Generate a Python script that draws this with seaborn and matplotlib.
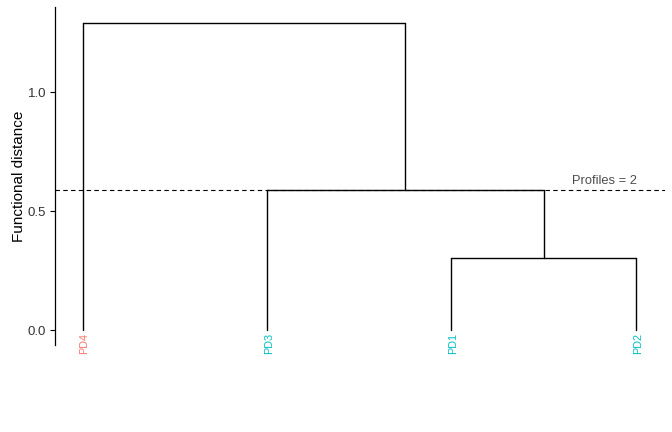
import numpy as np
import pandas as pd
import matplotlib
matplotlib.use("Agg")
import matplotlib.pyplot as plt
import seaborn as sns

# leaves in plotted order and their cluster colours
leaves = ["PD4", "PD3", "PD1", "PD2"]
leaf_colors = ["#F8766D", "#00BFC4", "#00BFC4", "#00BFC4"]

# merges: (left child, right child, height); children index leaves (0..3) or earlier merges (4..)
merges = [(2, 3, 0.302), (1, 4, 0.588), (0, 5, 1.294)]
cut_height = 0.588
cut_label = "Profiles = 2"

# build dendrogram segments
pos = {i: (float(i + 1), 0.0) for i in range(len(leaves))}
rows = []
seg = 0
for k, (a, b, h) in enumerate(merges):
    xa, ya = pos[a]
    xb, yb = pos[b]
    for xs, ys in [([xa, xa], [ya, h]), ([xb, xb], [yb, h]), ([xa, xb], [h, h])]:
        for x, y in zip(xs, ys):
            rows.append({"seg": seg, "x": x, "y": y})
        seg += 1
    pos[len(leaves) + k] = ((xa + xb) / 2, h)
segs = pd.DataFrame(rows)

sns.set_style("white")
plt.rcParams["font.family"] = ["Liberation Sans", "DejaVu Sans"]

fig = plt.figure(figsize=(6.72, 4.32), dpi=100)
ax = fig.add_axes([0.082, 0.201, 0.908, 0.783])

sns.lineplot(data=segs, x="x", y="y", units="seg", estimator=None, sort=False,
             color="black", linewidth=1.0, ax=ax)
ax.axhline(cut_height, color="black", linestyle=(0, (4, 3)), linewidth=0.8)
ax.text(3.83, cut_height + 0.015, cut_label, ha="center", va="bottom",
        fontsize=9.3, color="#4D4D4D")

for i, (lab, col) in enumerate(zip(leaves, leaf_colors)):
    ax.text(i + 1 + 0.01, -0.012, lab, rotation=90, ha="center", va="top",
            fontsize=7.8, color=col)

ax.set_xlim(0.85, 4.16)
ax.set_ylim(-0.063, 1.36)
ax.set_yticks([0.0, 0.5, 1.0])
ax.set_yticklabels(["0.0", "0.5", "1.0"], fontsize=9.5, color="#333333")
ax.set_xticks([])
ax.set_xlabel("")
ax.set_ylabel("Functional distance", fontsize=11, color="black", labelpad=1)
ax.tick_params(axis="y", direction="out", length=3.5, width=0.8, color="black",
               left=True, pad=3)
for s in ["top", "right", "bottom"]:
    ax.spines[s].set_visible(False)
ax.spines["left"].set_color("black")
ax.spines["left"].set_linewidth(0.9)

fig.savefig("out.png", dpi=100)
